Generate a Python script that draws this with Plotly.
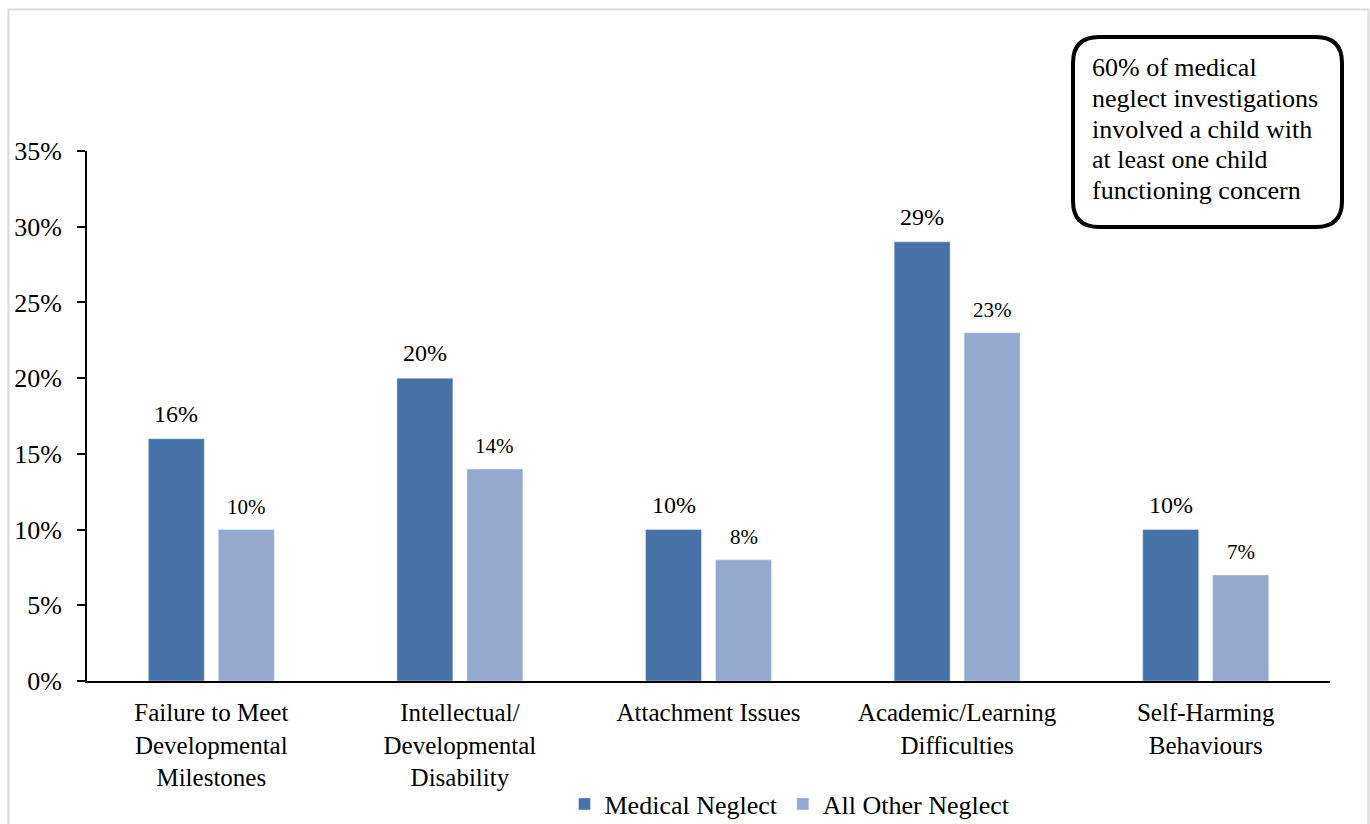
import plotly.graph_objects as go

categories = ["Failure to Meet<br>Developmental<br>Milestones",
              "Intellectual/<br>Developmental<br>Disability",
              "Attachment Issues",
              "Academic/Learning<br>Difficulties",
              "Self-Harming<br>Behaviours"]
medical = [16, 20, 10, 29, 10]
other = [10, 14, 8, 23, 7]
series_names = ["Medical Neglect", "All Other Neglect"]
tick_vals = [0, 5, 10, 15, 20, 25, 30, 35]
tick_text = ["0%", "5%", "10%", "15%", "20%", "25%", "30%", "35%"]
note_lines = ["60% of medical", "neglect investigations", "involved a child with",
              "at least one child", "functioning concern"]

FONT = "Liberation Serif, Times New Roman, serif"
W, H = 1370, 824
L, R, T, B = 87, 40, 151, 143
PW, PH = W - L - R, H - T - B

def px(x):
    return (x - L) / PW

def py(y):
    return 1 - (y - T) / PH

fig = go.Figure()
fig.add_trace(go.Bar(x=categories, y=medical, name=series_names[0],
                     marker=dict(color="#4672A7")))
fig.add_trace(go.Bar(x=categories, y=other, name=series_names[1],
                     marker=dict(color="#95A9CF")))

# data labels above the bars
for cat, v in zip(categories, medical):
    fig.add_annotation(x=cat, y=v, xref="x", yref="y", xshift=-35, yshift=25,
                       yanchor="middle", showarrow=False, text=f"{v}%",
                       font=dict(size=24, color="black", family=FONT))
for cat, v in zip(categories, other):
    fig.add_annotation(x=cat, y=v, xref="x", yref="y", xshift=35, yshift=23,
                       yanchor="middle", showarrow=False, text=f"{v}%",
                       font=dict(size=21, color="black", family=FONT))

# outer border
fig.add_shape(type="rect", xref="paper", yref="paper",
              x0=px(8.5), x1=px(1368.5), y0=py(830), y1=py(9.5),
              line=dict(color="#D9D9D9", width=2), fillcolor="rgba(0,0,0,0)", layer="below")

# rounded annotation box
x0, x1, y0, y1, r = px(1073), px(1342), py(37), py(227), 26
rx, ry = r / PW, r / PH
path = (f"M {x0+rx},{y0} L {x1-rx},{y0} Q {x1},{y0} {x1},{y0-ry} "
        f"L {x1},{y1+ry} Q {x1},{y1} {x1-rx},{y1} L {x0+rx},{y1} "
        f"Q {x0},{y1} {x0},{y1+ry} L {x0},{y0-ry} Q {x0},{y0} {x0+rx},{y0} Z")
fig.add_shape(type="path", xref="paper", yref="paper", path=path,
              line=dict(color="black", width=4), fillcolor="white")
for i, line in enumerate(note_lines):
    fig.add_annotation(xref="paper", yref="paper", x=px(1090), y=py(68 + 30.5 * i),
                       xanchor="left", yanchor="middle", align="left", showarrow=False,
                       text=line, font=dict(size=26, color="black", family=FONT))

fig.update_layout(
    width=W, height=H,
    margin=dict(l=L, r=R, t=T, b=B, pad=0, autoexpand=False),
    paper_bgcolor="white", plot_bgcolor="white",
    font=dict(family=FONT, size=25, color="black"),
    barmode="group", bargap=0.437, bargroupgap=0.2,
    showlegend=True,
    legend=dict(orientation="h", x=px(790), xanchor="center", y=py(804), yanchor="middle",
                font=dict(size=26, family=FONT), itemwidth=30, tracegroupgap=0,
                bgcolor="rgba(0,0,0,0)"),
    xaxis=dict(showline=True, linecolor="black", linewidth=2, ticks="",
               tickfont=dict(size=25, family=FONT), showgrid=False, zeroline=False,
               ticklabelstandoff=8),
    yaxis=dict(range=[0, 35], tickvals=tick_vals, ticktext=tick_text,
               showline=True, linecolor="black", linewidth=2,
               ticks="outside", ticklen=8, tickwidth=2, tickcolor="black",
               tickfont=dict(size=26, family=FONT), showgrid=False, zeroline=False,
               ticklabelstandoff=10),
)

fig.write_html("out.html")
